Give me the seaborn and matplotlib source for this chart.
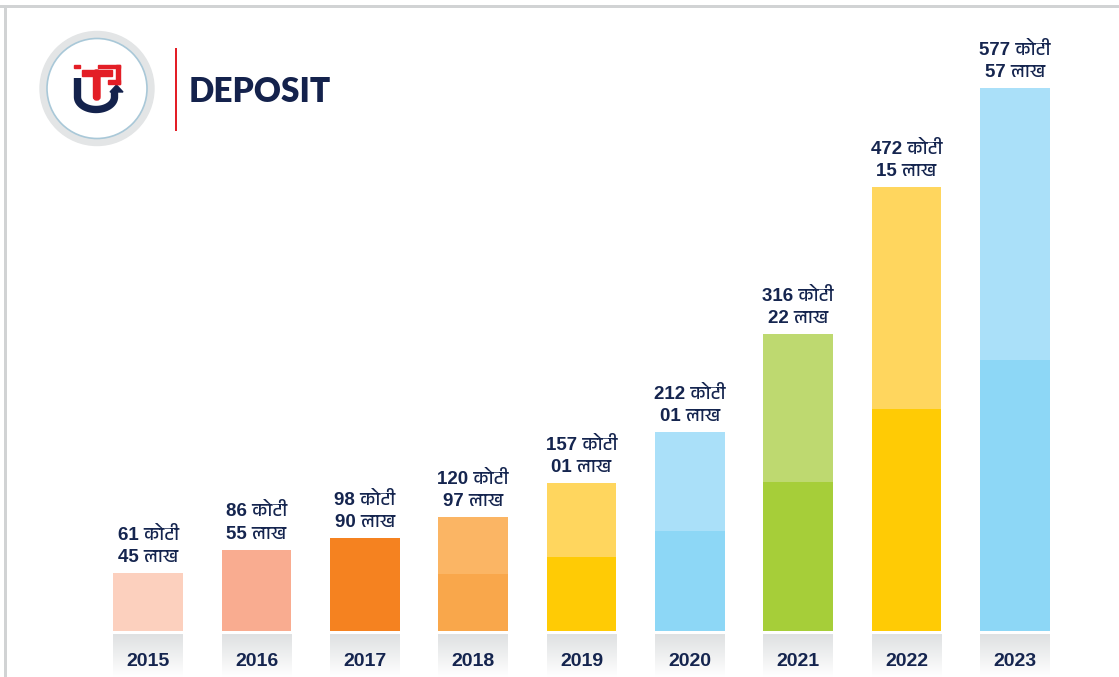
import numpy as np
import matplotlib
matplotlib.use("Agg")
import matplotlib.pyplot as plt
import seaborn as sns
from matplotlib import font_manager
from matplotlib.patches import Circle, Rectangle, Polygon, FancyBboxPatch
from matplotlib.colors import LinearSegmentedColormap

years = ["2015", "2016", "2017", "2018", "2019", "2020", "2021", "2022", "2023"]
koti = [61, 86, 98, 120, 157, 212, 316, 472, 577]
lakh = [45, 55, 90, 97, 1, 1, 22, 15, 57]
deposit = [k + l / 100 for k, l in zip(koti, lakh)]

lower_colors = ["#FCD0BE", "#F9AC90", "#F58220", "#F9A74B", "#FFCB05",
                "#8DD7F6", "#A6CE39", "#FFCB05", "#8DD7F6"]
upper_colors = ["#FCD0BE", "#F9AC90", "#F58220", "#FBB564", "#FFD65E",
                "#AAE0F9", "#BED970", "#FFD65E", "#AAE0F9"]

navy = "#15254F"
red = "#E31E26"
logo_navy = "#14224C"

sns.set_theme(style="white")
# pick up a font with devanagari glyphs, if one is installed
deva = [f.name for f in font_manager.fontManager.ttflist
        if "Devanagari" in f.name or "Lohit" in f.name or "Mangal" in f.name]
plt.rcParams["font.family"] = ["Liberation Sans"] + deva[:1] + ["DejaVu Sans"]

W, H = 1119, 677
fig = plt.figure(figsize=(W / 100, H / 100), dpi=100)
fig.patch.set_facecolor("white")

# main bar axes, placed in pixels
x0, x1 = 94, 1069
base_px, top_px = 631, 20
ax = fig.add_axes([x0 / W, (H - base_px) / H, (x1 - x0) / W, (base_px - top_px) / H])

xs = np.arange(len(years))
width = 0.645
# from 2018 on the bars are two-tone, lower half darker
lower = [d / 2 if i >= 3 else d for i, d in enumerate(deposit)]
sns.barplot(x=xs, y=deposit, hue=xs, palette=upper_colors, legend=False,
            width=width, ax=ax, native_scale=True, saturation=1, linewidth=0)
sns.barplot(x=xs, y=lower, hue=xs, palette=lower_colors, legend=False,
            width=width, ax=ax, native_scale=True, saturation=1, linewidth=0)
ax.set_xlim(-0.5, len(years) - 0.5)
ax.set_ylim(0, 650)
ax.axis("off")

for i, (k, l, d) in enumerate(zip(koti, lakh, deposit)):
    ax.annotate(f"{k} कोटी\n{l:02d} लाख", (i, d), xytext=(0, 5), textcoords="offset points",
                ha="center", va="bottom", fontsize=13.5, fontweight="bold",
                color=navy, linespacing=1.4)

# year boxes with grey gradient
lab = fig.add_axes([x0 / W, 0, (x1 - x0) / W, (H - 634) / H])
grad = np.linspace(0, 1, 64).reshape(-1, 1)
cmap = LinearSegmentedColormap.from_list("g", ["white", "#DFE1E2"])
for i, y in enumerate(years):
    lab.imshow(grad, cmap=cmap, extent=[i - width / 2, i + width / 2, 0, 1],
               aspect="auto", origin="lower")
    lab.text(i, 0.35, y, ha="center", va="center", fontsize=14, fontweight="bold", color=navy)
lab.set_xlim(-0.5, len(years) - 0.5)
lab.set_ylim(0, 1)
lab.axis("off")

# slide frame
fig.add_artist(Rectangle((0, (H - 8) / H), 1, 3 / H, transform=fig.transFigure,
                         facecolor="#D1D3D4", edgecolor="none"))
fig.add_artist(Rectangle((4 / W, 0), 3 / W, (H - 5) / H, transform=fig.transFigure,
                         facecolor="#D1D3D4", edgecolor="none"))

# logo, drawn in pixel coords
lg = fig.add_axes([37 / W, (H - 148) / H, 120 / W, 120 / H])
lg.set_xlim(37, 157)
lg.set_ylim(148, 28)
lg.axis("off")
lg.add_patch(Circle((97, 88.5), 57, color="#E3E5E6"))
lg.add_patch(Circle((97, 88.5), 50, facecolor="white", edgecolor="#A9C8D8", linewidth=1.2))
# navy U
t = np.linspace(np.pi, 2 * np.pi, 40)
ux = np.concatenate([[77.5], 96 + 18.5 * np.cos(t), [114.5]])
uy = np.concatenate([[78], 97 - 12.5 * np.sin(t), [92]])
lg.plot(ux, uy, color=logo_navy, lw=5.3, solid_capstyle="butt", solid_joinstyle="round")
lg.add_patch(Polygon([[110, 92], [116.5, 85], [123, 92]], closed=True, color=logo_navy))
# red i-T-P
lg.add_patch(Rectangle((74, 64.5), 6, 3.5, color=red))
lg.add_patch(Rectangle((82, 70), 30, 5.5, color=red))
lg.add_patch(FancyBboxPatch((93.5, 70), 6.5, 30, boxstyle="round,pad=0,rounding_size=3", color=red))
lg.add_patch(Rectangle((98, 64.5), 22, 3.5, color=red))
lg.add_patch(Rectangle((115.5, 64.5), 4.5, 19.5, color=red))
lg.add_patch(Rectangle((108, 79.5), 12, 4.5, color=red))

fig.add_artist(Rectangle((175 / W, (H - 131) / H), 2 / W, 83 / H, transform=fig.transFigure,
                         facecolor=red, edgecolor="none"))
fig.text(189 / W, (H - 92) / H, "DEPOSIT", fontsize=24, fontweight="heavy", color=logo_navy,
         va="center", ha="left", family=["Lato", "DejaVu Sans"])

fig.savefig("out.png", dpi=100)
